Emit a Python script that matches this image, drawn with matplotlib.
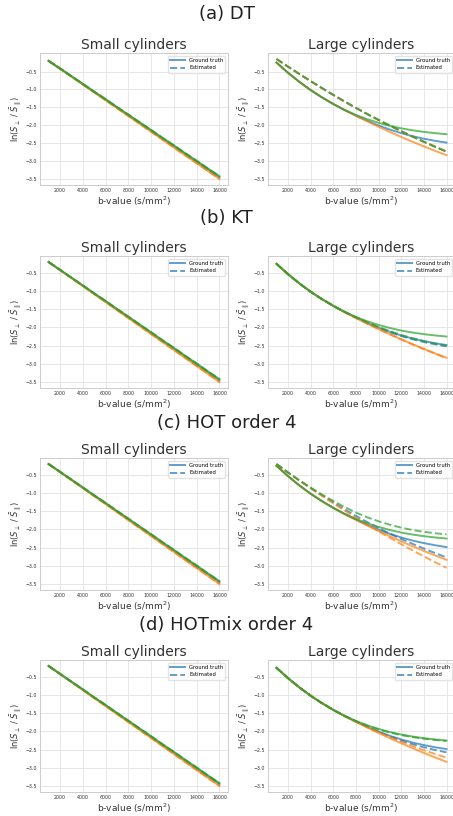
import numpy as np
import matplotlib.pyplot as plt

# b-values (s/mm^2)
bvals = [1000, 2000, 3000, 4000, 5000, 6000, 7000, 8000,
         9000, 10000, 11000, 12000, 13000, 14000, 15000, 16000]

# ground truth, small cylinders (blue, orange, green)
gt_small_blue = [-0.20, -0.42, -0.63, -0.85, -1.07, -1.28, -1.50, -1.72,
                 -1.93, -2.15, -2.37, -2.58, -2.80, -3.02, -3.23, -3.45]
gt_small_orange = [-0.20, -0.42, -0.64, -0.86, -1.08, -1.30, -1.52, -1.74,
                   -1.96, -2.18, -2.40, -2.62, -2.84, -3.06, -3.28, -3.50]
gt_small_green = [-0.20, -0.41, -0.63, -0.84, -1.06, -1.27, -1.49, -1.70,
                  -1.92, -2.13, -2.35, -2.56, -2.78, -2.99, -3.21, -3.42]

# ground truth, large cylinders
gt_large_blue = [-0.25, -0.53, -0.785, -1.015, -1.22, -1.405, -1.575, -1.73,
                 -1.875, -2.005, -2.12, -2.22, -2.305, -2.375, -2.435, -2.485]
gt_large_orange = [-0.25, -0.53, -0.785, -1.015, -1.22, -1.405, -1.575, -1.735,
                   -1.89, -2.04, -2.185, -2.325, -2.46, -2.59, -2.715, -2.835]
gt_large_green = [-0.25, -0.53, -0.785, -1.015, -1.22, -1.405, -1.57, -1.71,
                  -1.83, -1.93, -2.015, -2.085, -2.14, -2.185, -2.22, -2.25]

# estimates, large cylinders
dt_est_blue = [-0.15, -0.36, -0.565, -0.765, -0.96, -1.15, -1.335, -1.515,
               -1.685, -1.85, -2.01, -2.165, -2.315, -2.46, -2.60, -2.735]
dt_est_orange = [-0.15, -0.36, -0.565, -0.765, -0.96, -1.15, -1.335, -1.515,
                 -1.685, -1.85, -2.01, -2.165, -2.315, -2.46, -2.60, -2.735]
dt_est_green = [-0.15, -0.36, -0.565, -0.765, -0.96, -1.15, -1.335, -1.515,
                -1.685, -1.85, -2.01, -2.165, -2.315, -2.46, -2.60, -2.735]

kt_est_blue = [-0.25, -0.53, -0.785, -1.015, -1.22, -1.405, -1.575, -1.73,
               -1.875, -2.01, -2.13, -2.235, -2.325, -2.40, -2.465, -2.52]
kt_est_orange = [-0.25, -0.53, -0.785, -1.015, -1.22, -1.405, -1.58, -1.74,
                 -1.895, -2.045, -2.19, -2.33, -2.465, -2.595, -2.72, -2.845]
kt_est_green = [-0.25, -0.53, -0.785, -1.015, -1.22, -1.40, -1.565, -1.715,
                -1.855, -1.985, -2.10, -2.205, -2.295, -2.375, -2.445, -2.505]

hot_est_blue = [-0.20, -0.43, -0.65, -0.86, -1.06, -1.255, -1.445, -1.625,
                -1.795, -1.96, -2.115, -2.26, -2.395, -2.525, -2.65, -2.77]
hot_est_orange = [-0.20, -0.43, -0.65, -0.865, -1.075, -1.28, -1.48, -1.675,
                  -1.865, -2.05, -2.23, -2.405, -2.575, -2.74, -2.90, -3.055]
hot_est_green = [-0.20, -0.43, -0.645, -0.845, -1.035, -1.215, -1.38, -1.535,
                 -1.665, -1.775, -1.87, -1.95, -2.015, -2.065, -2.105, -2.135]

hotmix_est_blue = [-0.25, -0.53, -0.785, -1.015, -1.22, -1.405, -1.575, -1.73,
                   -1.875, -2.01, -2.135, -2.25, -2.35, -2.435, -2.51, -2.575]
hotmix_est_orange = [-0.25, -0.53, -0.785, -1.015, -1.22, -1.405, -1.575, -1.73,
                     -1.88, -2.02, -2.155, -2.28, -2.40, -2.515, -2.62, -2.72]
hotmix_est_green = [-0.25, -0.53, -0.785, -1.015, -1.22, -1.405, -1.57, -1.715,
                    -1.84, -1.945, -2.03, -2.10, -2.155, -2.20, -2.235, -2.26]

row_titles = ["(a) DT", "(b) KT", "(c) HOT order 4", "(d) HOTmix order 4"]
est_large = [
    (dt_est_blue, dt_est_orange, dt_est_green),
    (kt_est_blue, kt_est_orange, kt_est_green),
    (hot_est_blue, hot_est_orange, hot_est_green),
    (hotmix_est_blue, hotmix_est_orange, hotmix_est_green),
]
gt_small = (gt_small_blue, gt_small_orange, gt_small_green)
gt_large = (gt_large_blue, gt_large_orange, gt_large_green)
colors = ["#1f77b4", "#ff7f0e", "#2ca02c"]

W, H = 453, 816
fig = plt.figure(figsize=(W / 100, H / 100), dpi=100)

row_tops = [53, 256, 458, 660]
title_y = [14, 218, 423, 625]
ax_h = 132


def style(ax):
    ax.grid(True, color="#e3e3e3", lw=0.6)
    ax.set_axisbelow(True)
    for s in ax.spines.values():
        s.set_color("#cccccc")
        s.set_linewidth(0.7)
    ax.tick_params(labelsize=3.4, length=0, pad=2, colors="#333333")
    ax.set_xticks([2000, 4000, 6000, 8000, 10000, 12000, 14000, 16000])
    ax.set_yticks([-0.5, -1.0, -1.5, -2.0, -2.5, -3.0, -3.5])
    ax.set_xlabel("b-value (s/mm$^2$)", fontsize=6.5, labelpad=1, color="#333333")
    ax.set_ylabel(r"ln($S_\perp$ / $\bar{S}_\parallel$)", fontsize=6, labelpad=2,
                  color="#333333")


for r in range(4):
    top = row_tops[r]
    bottom = 1 - (top + ax_h) / H
    axl = fig.add_axes([40 / W, bottom, 188 / W, ax_h / H])
    axr = fig.add_axes([268 / W, bottom, 187 / W, ax_h / H], sharey=axl)
    fig.text(0.5, 1 - title_y[r] / H, row_titles[r], ha="center", va="center",
             fontsize=13, color="#222222")

    for ax, gts, ests, name in [(axl, gt_small, gt_small, "Small cylinders"),
                                (axr, gt_large, est_large[r], "Large cylinders")]:
        for i in range(3):
            ax.plot(bvals, gts[i], color=colors[i], lw=1.4, alpha=0.7,
                    label="Ground truth" if i == 0 else None)
            ax.plot(bvals, ests[i], color=colors[i], lw=1.4, ls="--", alpha=0.7,
                    label="Estimated" if i == 0 else None)
        style(ax)
        ax.set_title(name, fontsize=10, pad=3, color="#333333")
        ax.legend(loc="upper right", fontsize=3.8, frameon=True, framealpha=0.8,
                  edgecolor="#dddddd", handlelength=2.8)

fig.savefig("out.png", dpi=100)
